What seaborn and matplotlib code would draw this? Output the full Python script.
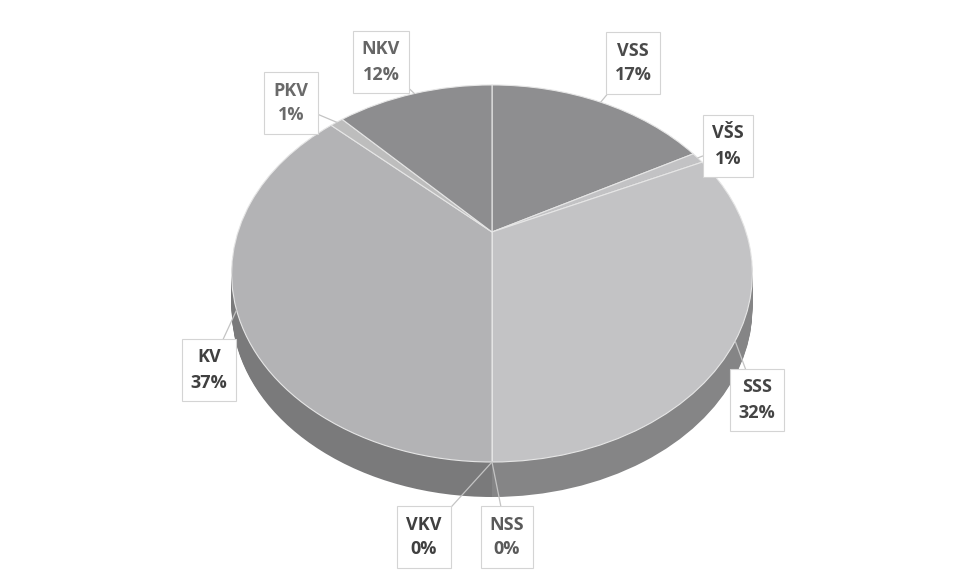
import matplotlib
matplotlib.use("Agg")
import numpy as np
import seaborn as sns
import matplotlib.pyplot as plt
from matplotlib.transforms import Transform, Affine2D

# data, clockwise from 12 o'clock
labels = ["VSS", "VŠS", "SSS", "NSS", "VKV", "KV", "PKV", "NKV"]
shares = [17, 1, 32, 0, 0, 37, 1, 12]

# label box centres in pixels (from top-left), layout only
label_px = [(633, 63), (728, 146), (757, 400), (507, 537),
            (424, 537), (209, 370), (291, 103), (381, 62)]

top_colors = ["#8e8e90", "#c2c2c4", "#c3c3c5", "#c0c0c0",
              "#b0b0b0", "#b3b3b5", "#bdbdbd", "#8d8d8f"]
text_colors = ["#4a4a4a", "#404040", "#454545", "#5a5a5a",
               "#404040", "#404040", "#6a6a6a", "#666666"]

sns.set_theme(style="white")
plt.rcParams["font.family"] = ["Open Sans", "DejaVu Sans"]


class Perspective(Transform):
    """Tilted-disc look: far side (top) shrinks."""
    input_dims = output_dims = 2

    def __init__(self, k):
        super().__init__()
        self.k = k

    def transform_non_affine(self, values):
        v = np.asarray(values, dtype=float)
        d = 1 + self.k * v[:, 1]
        return np.column_stack([v[:, 0] / d, v[:, 1] / d])


W, H = 959, 581
fig = plt.figure(figsize=(W / 100, H / 100), dpi=100)
ax = fig.add_axes([0, 0, 1, 1])

# apex position and scale in pixels
cx, cy, sx, sy, k = 492, 232, 254, 179.4, 0.22
depth = 35
persp = Perspective(k)


def disc(dy=0):
    return persp + Affine2D().scale(sx, -sy).translate(cx, cy + dy) + ax.transData


side_colors = [tuple(c * 0.68 for c in matplotlib.colors.to_rgb(col)) for col in top_colors]

# extruded side: stack of pies going down
n_layers = 36
for j in range(n_layers, 0, -1):
    wedges, _ = ax.pie(shares, startangle=90, counterclock=False, colors=side_colors,
                       wedgeprops=dict(linewidth=0))
    t = disc(depth * j / n_layers)
    for w in wedges:
        w.set_transform(t)

# top face
wedges, _ = ax.pie(shares, startangle=90, counterclock=False, colors=top_colors,
                   wedgeprops=dict(edgecolor="#e6e6e6", linewidth=0.8))
for w in wedges:
    w.set_transform(disc())

ax.set_aspect("auto")
ax.set_xlim(0, W)
ax.set_ylim(H, 0)
ax.axis("off")

# label callouts
cum = np.cumsum([0] + shares[:-1])
for i, lab in enumerate(labels):
    mid = 90 - (cum[i] + shares[i] / 2) / sum(shares) * 360
    th = np.deg2rad(mid)
    px, py = label_px[i]
    ax.annotate(f"{lab}\n{shares[i]}%", xy=(np.cos(th), np.sin(th)), xycoords=disc(),
                xytext=(px, py), textcoords="data",
                ha="center", va="center", fontsize=13, fontweight="bold",
                color=text_colors[i], linespacing=1.5,
                bbox=dict(boxstyle="square,pad=0.5", fc="white", ec="#d4d4d4", lw=0.8),
                arrowprops=dict(arrowstyle="-", color="#c4c4c4", lw=0.9,
                                shrinkA=0, shrinkB=0))

fig.savefig("out.png", dpi=100, facecolor="white")
